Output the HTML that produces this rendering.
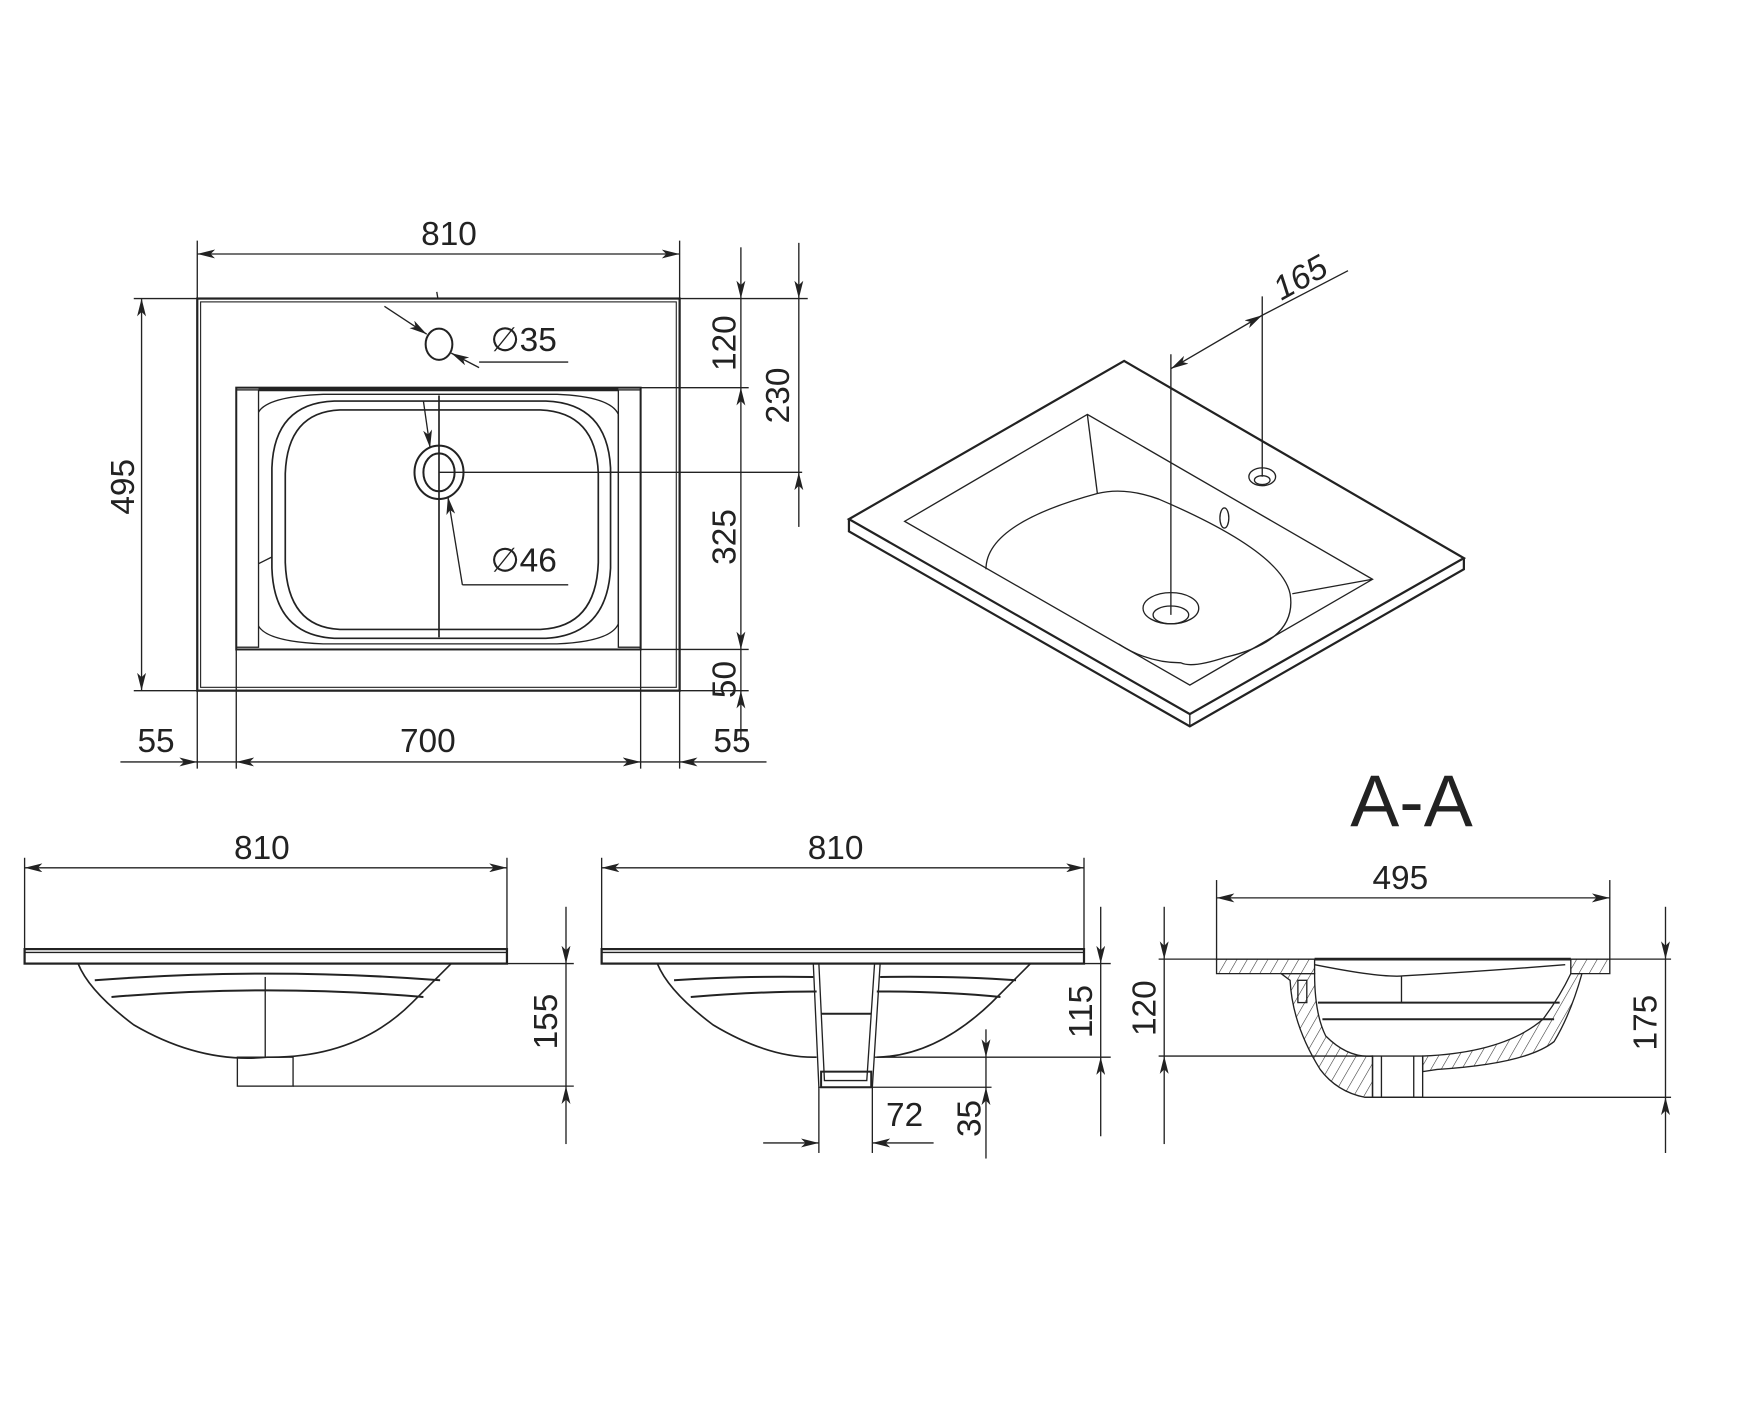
<!DOCTYPE html>
<html><head><meta charset="utf-8"><style>
html,body{margin:0;padding:0;background:#fff}
svg{display:block}
text{font-family:"Liberation Sans",sans-serif;fill:#222}
</style></head><body>
<svg width="1738" height="1422" viewBox="0 0 1560 1276.5" xmlns="http://www.w3.org/2000/svg">
<defs>
<marker id="a" viewBox="0 0 16 8" refX="16" refY="4" markerWidth="16" markerHeight="8" markerUnits="userSpaceOnUse" orient="auto-start-reverse"><path d="M0,0 L16,4 L0,8 L4,4 z" fill="#222"/></marker>
<pattern id="h" width="8" height="8" patternUnits="userSpaceOnUse" patternTransform="rotate(30)"><line x1="0" y1="0" x2="0" y2="8" stroke="#333" stroke-width="1"/></pattern>
</defs>
<g fill="none" stroke="#222" stroke-width="1.2">
<!-- ===== PLAN VIEW ===== -->
<rect x="177" y="268" width="433" height="352" stroke-width="2"/>
<rect x="180" y="271" width="427" height="346" stroke-width="1"/>
<line x1="177" y1="216" x2="177" y2="690"/>
<line x1="610" y1="216" x2="610" y2="690"/>
<line x1="177" y1="228" x2="610" y2="228" marker-start="url(#a)" marker-end="url(#a)"/>
<!-- basin frame -->
<rect x="212" y="348" width="363" height="235" stroke-width="1.8"/>
<rect x="212" y="350" width="20" height="231"/>
<rect x="555" y="350" width="20" height="231"/>
<line x1="232" y1="350" x2="555" y2="350" stroke-width="2.5"/>
<path d="M232,370 Q240,356 290,354 L500,354 Q548,356 555,372 L555,560 Q548,576 500,578 L290,578 Q240,576 232,562"/>
<path d="M300,360 L490,360 Q545,362 548,420 L548,510 Q545,570 490,573 L300,573 Q246,570 244,510 L244,420 Q246,362 300,360 Z" stroke-width="1.5"/>
<path d="M305,368 L485,368 Q535,370 537,425 L537,505 Q535,563 485,565 L305,565 Q258,563 256,505 L256,425 Q258,370 305,368 Z" stroke-width="1.5"/>
<line x1="394" y1="355" x2="394" y2="572" stroke-width="1.5"/>
<line x1="232" y1="506" x2="244" y2="500"/>
<line x1="548" y1="424" x2="555" y2="424"/>
<ellipse cx="394" cy="424" rx="22" ry="24" stroke-width="1.8"/>
<ellipse cx="394" cy="424" rx="14" ry="17" stroke-width="1.8"/>
<line x1="394" y1="424" x2="720" y2="424"/>
<!-- tap hole -->
<ellipse cx="394" cy="309" rx="12" ry="14" stroke-width="1.8"/>
<line x1="345" y1="275" x2="383" y2="300" marker-end="url(#a)"/>
<line x1="430" y1="330" x2="405" y2="317" marker-end="url(#a)"/>
<line x1="430" y1="325" x2="510" y2="325"/>
<line x1="392" y1="262" x2="393" y2="268"/>
<!-- d46 leader -->
<line x1="380" y1="360" x2="386" y2="402" marker-end="url(#a)"/>
<line x1="415" y1="525" x2="402" y2="446" marker-end="url(#a)"/>
<line x1="415" y1="525" x2="510" y2="525"/>
<!-- right dims -->
<line x1="610" y1="268" x2="725" y2="268"/>
<line x1="575" y1="348" x2="672" y2="348"/>
<line x1="575" y1="583" x2="672" y2="583"/>
<line x1="610" y1="620" x2="672" y2="620"/>
<line x1="665" y1="222" x2="665" y2="268" marker-end="url(#a)"/>
<line x1="665" y1="268" x2="665" y2="348"/>
<line x1="665" y1="348" x2="665" y2="583" marker-start="url(#a)" marker-end="url(#a)"/>
<line x1="665" y1="583" x2="665" y2="620"/>
<line x1="665" y1="665" x2="665" y2="620" marker-end="url(#a)"/>
<line x1="717" y1="218" x2="717" y2="268" marker-end="url(#a)"/>
<line x1="717" y1="268" x2="717" y2="424"/>
<line x1="717" y1="473" x2="717" y2="424" marker-end="url(#a)"/>
<!-- left dim 495 -->
<line x1="120" y1="268" x2="177" y2="268"/>
<line x1="120" y1="620" x2="177" y2="620"/>
<line x1="127" y1="268" x2="127" y2="620" marker-start="url(#a)" marker-end="url(#a)"/>
<!-- bottom dims -->
<line x1="212" y1="583" x2="212" y2="690"/>
<line x1="575" y1="583" x2="575" y2="690"/>
<line x1="108" y1="684" x2="177" y2="684" marker-end="url(#a)"/>
<line x1="177" y1="684" x2="212" y2="684"/>
<line x1="212" y1="684" x2="575" y2="684" marker-start="url(#a)" marker-end="url(#a)"/>
<line x1="575" y1="684" x2="610" y2="684"/>
<line x1="688" y1="684" x2="610" y2="684" marker-end="url(#a)"/>

<!-- ===== ISO VIEW ===== -->
<path d="M1009,324 L762,466 L1068,641 L1314,501 Z" stroke-width="2"/>
<path d="M762,466 L762,477 L1068,652 L1314,511 L1314,501" stroke-width="2"/>
<line x1="1068" y1="641" x2="1068" y2="652"/>
<path d="M976,372 L812,468 L1068,615 L1232,520 Z"/>
<line x1="976" y1="372" x2="985" y2="443"/>
<path d="M885,511 Q885,470 985,443 Q1010,437 1040,448 Q1150,495 1158,533 Q1165,575 1100,590 Q1070,600 1060,595 Q1030,595 1004,578"/>
<line x1="1160" y1="533" x2="1232" y2="520"/>
<ellipse cx="1051" cy="546" rx="25" ry="14"/>
<ellipse cx="1051" cy="552" rx="16" ry="8"/>
<ellipse cx="1133" cy="428" rx="12" ry="8"/>
<ellipse cx="1133" cy="431" rx="7" ry="4"/>
<ellipse cx="1099" cy="465" rx="4" ry="9"/>
<line x1="1051" y1="318" x2="1051" y2="552"/>
<line x1="1133" y1="266" x2="1133" y2="428"/>
<line x1="1051" y1="331" x2="1133" y2="283" marker-start="url(#a)" marker-end="url(#a)"/>
<line x1="1133" y1="283" x2="1210" y2="243"/>

<!-- ===== FRONT VIEW 1 ===== -->
<line x1="22" y1="770" x2="22" y2="860"/>
<line x1="455" y1="770" x2="455" y2="860"/>
<line x1="22" y1="779" x2="455" y2="779" marker-start="url(#a)" marker-end="url(#a)"/>
<rect x="22" y="852" width="433" height="13" stroke-width="2"/>
<line x1="22" y1="855" x2="455" y2="855"/>
<path d="M70,865 Q80,890 120,920 Q180,955 240,949 Q320,950 370,900 Q395,875 405,865" stroke-width="1.5"/>
<path d="M85,880 Q240,868 395,880" stroke-width="1.8"/>
<path d="M100,895 Q240,883 380,895" stroke-width="1.8"/>
<line x1="238" y1="877" x2="238" y2="949"/>
<rect x="213" y="949" width="50" height="26"/>
<line x1="263" y1="975" x2="515" y2="975"/>
<line x1="455" y1="865" x2="515" y2="865"/>
<line x1="508" y1="814" x2="508" y2="865" marker-end="url(#a)"/>
<line x1="508" y1="865" x2="508" y2="975"/>
<line x1="508" y1="1027" x2="508" y2="975" marker-end="url(#a)"/>

<!-- ===== FRONT VIEW 2 ===== -->
<line x1="540" y1="770" x2="540" y2="860"/>
<line x1="973" y1="770" x2="973" y2="860"/>
<line x1="540" y1="779" x2="973" y2="779" marker-start="url(#a)" marker-end="url(#a)"/>
<rect x="540" y="852" width="433" height="13" stroke-width="2"/>
<line x1="540" y1="855" x2="973" y2="855"/>
<path d="M590,865 Q600,890 640,920 Q690,950 733,949" stroke-width="1.5"/>
<path d="M787,949 Q840,948 890,900 Q915,875 925,865" stroke-width="1.5"/>
<path d="M605,880 Q660,876 730,877 M790,877 Q860,876 912,880" stroke-width="1.8"/>
<path d="M620,895 Q680,890 733,890 M787,890 Q850,890 898,895" stroke-width="1.8"/>
<path d="M730,865 L735,976 L783,976 L790,865"/>
<path d="M735,865 L740,970 L778,970 L785,865"/>
<line x1="737" y1="910" x2="782" y2="910" stroke-width="1.8"/>
<rect x="737" y="962" width="45" height="14" stroke-width="1.8"/>
<line x1="785" y1="949" x2="997" y2="949"/>
<line x1="973" y1="865" x2="997" y2="865"/>
<line x1="783" y1="976" x2="890" y2="976"/>
<line x1="988" y1="814" x2="988" y2="865" marker-end="url(#a)"/>
<line x1="988" y1="865" x2="988" y2="949"/>
<line x1="988" y1="1020" x2="988" y2="949" marker-end="url(#a)"/>
<line x1="735" y1="976" x2="735" y2="1035"/>
<line x1="783" y1="976" x2="783" y2="1035"/>
<line x1="685" y1="1026" x2="735" y2="1026" marker-end="url(#a)"/>
<line x1="838" y1="1026" x2="783" y2="1026" marker-end="url(#a)"/>
<line x1="885" y1="924" x2="885" y2="949" marker-end="url(#a)"/>
<line x1="885" y1="949" x2="885" y2="976"/>
<line x1="885" y1="1040" x2="885" y2="976" marker-end="url(#a)"/>

<!-- ===== SECTION A-A ===== -->
<line x1="1092" y1="790" x2="1092" y2="862"/>
<line x1="1445" y1="790" x2="1445" y2="862"/>
<line x1="1092" y1="806" x2="1445" y2="806" marker-start="url(#a)" marker-end="url(#a)"/>
<path d="M1092,861 L1180,861 L1180,874 L1092,874 Z" fill="url(#h)"/>
<path d="M1410,861 L1445,861 L1445,874 L1410,874 Z" fill="url(#h)"/>
<path d="M1150,874 L1180,874 Q1180,910 1190,930 Q1210,950 1232,948 L1232,985 L1225,985 Q1200,980 1185,960 Q1160,920 1158,880 Z" fill="url(#h)"/>
<path d="M1277,948 Q1350,945 1385,915 Q1400,895 1410,874 L1420,874 Q1410,910 1395,935 Q1370,955 1290,960 L1277,962 Z" fill="url(#h)"/>
<line x1="1180" y1="861" x2="1410" y2="861" stroke-width="2.5"/>
<path d="M1180,866 Q1240,878 1260,876 Q1330,872 1405,866"/>
<line x1="1258" y1="876" x2="1258" y2="900"/>
<line x1="1183" y1="900" x2="1400" y2="900" stroke-width="1.8"/>
<line x1="1187" y1="915" x2="1395" y2="915" stroke-width="1.8"/>
<rect x="1165" y="880" width="8" height="20"/>
<rect x="1232" y="948" width="45" height="37"/>
<line x1="1240" y1="948" x2="1240" y2="985"/>
<line x1="1269" y1="948" x2="1269" y2="985"/>
<line x1="1040" y1="861" x2="1500" y2="861"/>
<line x1="1040" y1="948" x2="1232" y2="948"/>
<line x1="1225" y1="985" x2="1500" y2="985"/>
<line x1="1045" y1="814" x2="1045" y2="861" marker-end="url(#a)"/>
<line x1="1045" y1="861" x2="1045" y2="948"/>
<line x1="1045" y1="1027" x2="1045" y2="948" marker-end="url(#a)"/>
<line x1="1495" y1="814" x2="1495" y2="861" marker-end="url(#a)"/>
<line x1="1495" y1="861" x2="1495" y2="985"/>
<line x1="1495" y1="1035" x2="1495" y2="985" marker-end="url(#a)"/>
</g>

<g font-size="30" text-anchor="middle">
<text x="403" y="220">810</text>
<text x="470" y="315">∅35</text>
<text x="470" y="513">∅46</text>
<text x="140" y="675">55</text>
<text x="384" y="675">700</text>
<text x="657" y="675">55</text>
<text transform="translate(120,437) rotate(-90)">495</text>
<text transform="translate(660,308) rotate(-90)">120</text>
<text transform="translate(708,355) rotate(-90)">230</text>
<text transform="translate(660,482) rotate(-90)">325</text>
<text transform="translate(660,610) rotate(-90)">50</text>
<text transform="translate(1172,258) rotate(-29)" font-style="italic">165</text>
<text x="235" y="771">810</text>
<text x="750" y="771">810</text>
<text x="1257" y="798">495</text>
<text x="812" y="1011">72</text>
<text transform="translate(500,917) rotate(-90)">155</text>
<text transform="translate(980,908) rotate(-90)">115</text>
<text transform="translate(880,1004) rotate(-90)">35</text>
<text transform="translate(1037,905) rotate(-90)">120</text>
<text transform="translate(1487,918) rotate(-90)">175</text>
<text x="1267" y="742" font-size="66">A-A</text>
</g>
</svg>
</body></html>
